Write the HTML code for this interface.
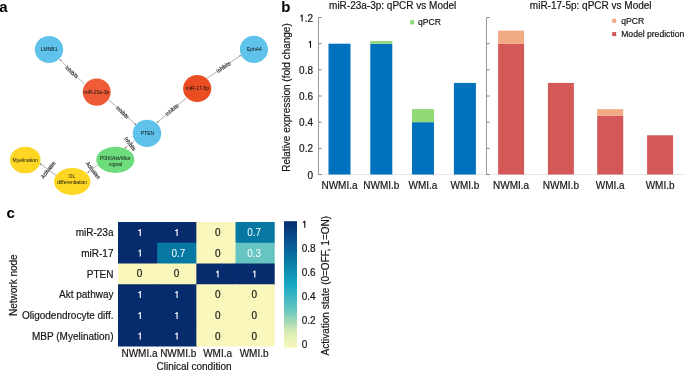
<!DOCTYPE html>
<html><head><meta charset="utf-8"><style>
html,body{margin:0;padding:0;background:#fff;width:685px;height:371px;overflow:hidden}
svg{display:block;font-family:"Liberation Sans", sans-serif;will-change:transform}
</style></head><body>
<svg width="685" height="371" viewBox="0 0 685 371">
<g>
<line x1="84.2" y1="83.8" x2="59.65" y2="59.3" stroke="#777" stroke-width="0.6"/>
<path d="M59.65,59.30 L61.42,59.93 L60.29,61.07Z" fill="#555"/>
<g transform="translate(71.8 71.9) rotate(43) scale(0.88 1)"><text x="0" y="1.9" font-size="5.6" fill="#fff" stroke="#fff" stroke-width="0.9" text-anchor="middle">Inhibits</text><text x="0" y="1.9" font-size="5.6" fill="#333" stroke="#333" stroke-width="0.2" text-anchor="middle">Inhibits</text></g>
<line x1="108.4" y1="99.4" x2="136.0" y2="124.9" stroke="#777" stroke-width="0.6"/>
<path d="M136.00,124.90 L134.21,124.33 L135.29,123.16Z" fill="#555"/>
<g transform="translate(122.4 112.3) rotate(43) scale(0.88 1)"><text x="0" y="1.9" font-size="5.6" fill="#fff" stroke="#fff" stroke-width="0.9" text-anchor="middle">Inhibits</text><text x="0" y="1.9" font-size="5.6" fill="#333" stroke="#333" stroke-width="0.2" text-anchor="middle">Inhibits</text></g>
<line x1="206.8" y1="78.5" x2="241" y2="55.2" stroke="#777" stroke-width="0.6"/>
<path d="M241.00,55.20 L240.05,56.82 L239.14,55.50Z" fill="#555"/>
<g transform="translate(223.4 67.2) rotate(-34.3) scale(0.88 1)"><text x="0" y="1.9" font-size="5.6" fill="#fff" stroke="#fff" stroke-width="0.9" text-anchor="middle">Inhibits</text><text x="0" y="1.9" font-size="5.6" fill="#333" stroke="#333" stroke-width="0.2" text-anchor="middle">Inhibits</text></g>
<line x1="186.5" y1="97.8" x2="157" y2="122.7" stroke="#777" stroke-width="0.6"/>
<path d="M157.00,122.70 L157.78,120.99 L158.82,122.21Z" fill="#555"/>
<g transform="translate(172.0 109.9) rotate(-40.2) scale(0.88 1)"><text x="0" y="1.9" font-size="5.6" fill="#fff" stroke="#fff" stroke-width="0.9" text-anchor="middle">Inhibits</text><text x="0" y="1.9" font-size="5.6" fill="#333" stroke="#333" stroke-width="0.2" text-anchor="middle">Inhibits</text></g>
<line x1="134.2" y1="141.1" x2="124.4" y2="148.5" stroke="#777" stroke-width="0.6"/>
<path d="M124.40,148.50 L125.27,146.84 L126.24,148.11Z" fill="#555"/>
<g transform="translate(130.1 143.9) rotate(53) scale(0.88 1)"><text x="0" y="1.9" font-size="5.6" fill="#fff" stroke="#fff" stroke-width="0.9" text-anchor="middle">Inhibits</text><text x="0" y="1.9" font-size="5.6" fill="#333" stroke="#333" stroke-width="0.2" text-anchor="middle">Inhibits</text></g>
<line x1="97.1" y1="165.4" x2="87.3" y2="172.8" stroke="#777" stroke-width="0.6"/>
<path d="M87.30,172.80 L88.17,171.14 L89.14,172.41Z" fill="#555"/>
<g transform="translate(93.1 170.4) rotate(52) scale(0.88 1)"><text x="0" y="1.9" font-size="5.6" fill="#fff" stroke="#fff" stroke-width="0.9" text-anchor="middle">Activates</text><text x="0" y="1.9" font-size="5.6" fill="#333" stroke="#333" stroke-width="0.2" text-anchor="middle">Activates</text></g>
<line x1="56.3" y1="175.5" x2="40" y2="163.6" stroke="#777" stroke-width="0.6"/>
<path d="M40.00,163.60 L41.84,163.96 L40.90,165.25Z" fill="#555"/>
<g transform="translate(48.1 169.9) rotate(-52) scale(0.88 1)"><text x="0" y="1.9" font-size="5.6" fill="#fff" stroke="#fff" stroke-width="0.9" text-anchor="middle">Activates</text><text x="0" y="1.9" font-size="5.6" fill="#333" stroke="#333" stroke-width="0.2" text-anchor="middle">Activates</text></g>
</g>
<ellipse cx="49" cy="49.5" rx="14.2" ry="13.6" fill="#5ec2ea"/>
<text x="49.1" y="50.9" font-size="5" fill="#111" text-anchor="middle">LMNB1</text>
<ellipse cx="96.7" cy="92.1" rx="14.0" ry="13.6" fill="#ee5b36"/>
<text x="96.3" y="93.8" font-size="5" fill="#111" text-anchor="middle">miR-23a-3p</text>
<ellipse cx="197.2" cy="88.5" rx="14.1" ry="13.6" fill="#ea4d22"/>
<text x="197.4" y="90.1" font-size="5" fill="#111" text-anchor="middle">miR-17-5p</text>
<ellipse cx="253.9" cy="49.4" rx="14.0" ry="13.6" fill="#5ec2ea"/>
<text x="254.4" y="50.5" font-size="5" fill="#111" text-anchor="middle">EphA4</text>
<ellipse cx="147" cy="133.4" rx="14.2" ry="13.6" fill="#5ec2ea"/>
<text x="147.5" y="134.7" font-size="5" fill="#111" text-anchor="middle">PTEN</text>
<ellipse cx="115.35" cy="159.8" rx="19.05" ry="13.1" fill="#6cdc7c"/>
<text x="115.3" y="159.5" font-size="5" fill="#111" text-anchor="middle">PI3K/Akt/Mtor</text>
<text x="115.6" y="165.6" font-size="5" fill="#111" text-anchor="middle">signal</text>
<ellipse cx="25.3" cy="160" rx="15.3" ry="13.3" fill="#fdd724"/>
<text x="25.2" y="161.6" font-size="5" fill="#111" text-anchor="middle">Myelination</text>
<ellipse cx="72.25" cy="181.5" rx="18.2" ry="13.4" fill="#fdd724"/>
<text x="71.9" y="178.3" font-size="5" fill="#111" text-anchor="middle">OL</text>
<text x="72.1" y="184.0" font-size="5" fill="#111" text-anchor="middle">differentiation</text>
<line x1="318.5" y1="174.5" x2="685" y2="174.5" stroke="#e6e6e6" stroke-width="1"/>
<line x1="318.5" y1="17.54" x2="318.5" y2="174.5" stroke="#808080" stroke-width="0.8"/>
<line x1="318.5" y1="174.50" x2="321.7" y2="174.50" stroke="#666" stroke-width="0.8"/>
<text x="313.00" y="178.50" font-size="10" fill="#141414" stroke="#141414" stroke-width="0.18" text-anchor="end">0</text>
<line x1="318.5" y1="148.34" x2="321.7" y2="148.34" stroke="#666" stroke-width="0.8"/>
<text x="313.00" y="152.34" font-size="10" fill="#141414" stroke="#141414" stroke-width="0.18" text-anchor="end">0.2</text>
<line x1="318.5" y1="122.18" x2="321.7" y2="122.18" stroke="#666" stroke-width="0.8"/>
<text x="313.00" y="126.18" font-size="10" fill="#141414" stroke="#141414" stroke-width="0.18" text-anchor="end">0.4</text>
<line x1="318.5" y1="96.02" x2="321.7" y2="96.02" stroke="#666" stroke-width="0.8"/>
<text x="313.00" y="100.02" font-size="10" fill="#141414" stroke="#141414" stroke-width="0.18" text-anchor="end">0.6</text>
<line x1="318.5" y1="69.86" x2="321.7" y2="69.86" stroke="#666" stroke-width="0.8"/>
<text x="313.00" y="73.86" font-size="10" fill="#141414" stroke="#141414" stroke-width="0.18" text-anchor="end">0.8</text>
<line x1="318.5" y1="43.70" x2="321.7" y2="43.70" stroke="#666" stroke-width="0.8"/>
<path d="M311.07,40.70 L311.07,47.70 L309.92,47.70 L309.92,42.70 L308.47,42.70 L308.47,41.90 C309.32,41.85 309.87,41.50 310.07,40.70 Z" fill="#141414"/>
<line x1="318.5" y1="17.54" x2="321.7" y2="17.54" stroke="#666" stroke-width="0.8"/>
<path d="M302.73,14.54 L302.73,21.54 L301.58,21.54 L301.58,16.54 L300.13,16.54 L300.13,15.74 C300.98,15.69 301.53,15.34 301.73,14.54 Z" fill="#141414"/>
<text x="313.00" y="21.54" font-size="10" fill="#141414" stroke="#141414" stroke-width="0.18" text-anchor="end">.2</text>
<rect x="328.50" y="43.70" width="22" height="130.80" fill="#0072bd"/>
<rect x="370.30" y="43.70" width="22" height="130.80" fill="#0072bd"/>
<rect x="370.30" y="41.08" width="22" height="2.62" fill="#90d975"/>
<rect x="412.00" y="122.18" width="22" height="52.32" fill="#0072bd"/>
<rect x="412.00" y="109.10" width="22" height="13.08" fill="#90d975"/>
<rect x="453.90" y="82.94" width="22" height="91.56" fill="#0072bd"/>
<line x1="486.5" y1="17.54" x2="486.5" y2="174.5" stroke="#808080" stroke-width="0.8"/>
<line x1="486.5" y1="174.50" x2="489.7" y2="174.50" stroke="#666" stroke-width="0.8"/>
<line x1="486.5" y1="148.34" x2="489.7" y2="148.34" stroke="#666" stroke-width="0.8"/>
<line x1="486.5" y1="122.18" x2="489.7" y2="122.18" stroke="#666" stroke-width="0.8"/>
<line x1="486.5" y1="96.02" x2="489.7" y2="96.02" stroke="#666" stroke-width="0.8"/>
<line x1="486.5" y1="69.86" x2="489.7" y2="69.86" stroke="#666" stroke-width="0.8"/>
<line x1="486.5" y1="43.70" x2="489.7" y2="43.70" stroke="#666" stroke-width="0.8"/>
<line x1="486.5" y1="17.54" x2="489.7" y2="17.54" stroke="#666" stroke-width="0.8"/>
<rect x="498.10" y="43.70" width="26" height="130.80" fill="#d55858"/>
<rect x="498.10" y="30.62" width="26" height="13.08" fill="#f2aa84"/>
<rect x="547.90" y="82.94" width="26" height="91.56" fill="#d55858"/>
<rect x="597.20" y="115.64" width="26" height="58.86" fill="#d55858"/>
<rect x="597.20" y="109.10" width="26" height="6.54" fill="#f2aa84"/>
<rect x="647.10" y="135.26" width="26" height="39.24" fill="#d55858"/>
<text x="339.50" y="188.50" font-size="10" fill="#141414" stroke="#141414" stroke-width="0.18" text-anchor="middle">NWMI.a</text>
<text x="381.30" y="188.50" font-size="10" fill="#141414" stroke="#141414" stroke-width="0.18" text-anchor="middle">NWMI.b</text>
<text x="423.00" y="188.50" font-size="10" fill="#141414" stroke="#141414" stroke-width="0.18" text-anchor="middle">WMI.a</text>
<text x="464.90" y="188.50" font-size="10" fill="#141414" stroke="#141414" stroke-width="0.18" text-anchor="middle">WMI.b</text>
<text x="511.10" y="188.50" font-size="10" fill="#141414" stroke="#141414" stroke-width="0.18" text-anchor="middle">NWMI.a</text>
<text x="560.90" y="188.50" font-size="10" fill="#141414" stroke="#141414" stroke-width="0.18" text-anchor="middle">NWMI.b</text>
<text x="610.20" y="188.50" font-size="10" fill="#141414" stroke="#141414" stroke-width="0.18" text-anchor="middle">WMI.a</text>
<text x="660.10" y="188.50" font-size="10" fill="#141414" stroke="#141414" stroke-width="0.18" text-anchor="middle">WMI.b</text>
<text x="392.70" y="8.60" font-size="10" fill="#141414" stroke="#141414" stroke-width="0.18" text-anchor="middle">miR-23a-3p: qPCR vs Model</text>
<text x="590.70" y="8.60" font-size="10" fill="#141414" stroke="#141414" stroke-width="0.18" text-anchor="middle">miR-17-5p: qPCR vs Model</text>
<text transform="translate(289.9 97.5) rotate(-90)" font-size="10" fill="#141414" stroke="#141414" stroke-width="0.18" text-anchor="middle">Relative expression (fold change)</text>
<rect x="410.2" y="20.2" width="4" height="4.2" fill="#90d975"/>
<text x="418.10" y="25.10" font-size="8.6" fill="#141414" stroke="#141414" stroke-width="0.18">qPCR</text>
<rect x="612.2" y="18.8" width="4" height="4.1" fill="#f2aa84"/>
<text x="621.20" y="23.80" font-size="8.6" fill="#141414" stroke="#141414" stroke-width="0.18">qPCR</text>
<rect x="612.2" y="32" width="4" height="4.1" fill="#d55858"/>
<text x="621.20" y="37.00" font-size="8.6" fill="#141414" stroke="#141414" stroke-width="0.18">Model prediction</text>
<rect x="118.00" y="222.00" width="40.17" height="21.75" fill="#072c6e"/>
<rect x="157.18" y="222.00" width="40.17" height="21.75" fill="#072c6e"/>
<rect x="196.35" y="222.00" width="40.17" height="21.75" fill="#f9f7bb"/>
<rect x="235.52" y="222.00" width="39.17" height="21.75" fill="#0777a3"/>
<path d="M140.85,228.88 L140.85,235.88 L139.70,235.88 L139.70,230.88 L138.25,230.88 L138.25,230.07 C139.10,230.03 139.65,229.68 139.85,228.88 Z" fill="#fff"/>
<path d="M177.65,228.88 L177.65,235.88 L176.50,235.88 L176.50,230.88 L175.05,230.88 L175.05,230.07 C175.90,230.03 176.45,229.68 176.65,228.88 Z" fill="#fff"/>
<text x="217.70" y="235.88" font-size="10" fill="#141414" stroke="#141414" stroke-width="0.18" text-anchor="middle">0</text>
<text x="254.20" y="235.88" font-size="10" fill="#fff" text-anchor="middle">0.7</text>
<text x="113.50" y="236.07" font-size="10" fill="#141414" stroke="#141414" stroke-width="0.18" text-anchor="end">miR-23a</text>
<rect x="118.00" y="242.75" width="40.17" height="21.75" fill="#072c6e"/>
<rect x="157.18" y="242.75" width="40.17" height="21.75" fill="#0777a3"/>
<rect x="196.35" y="242.75" width="40.17" height="21.75" fill="#f9f7bb"/>
<rect x="235.52" y="242.75" width="39.17" height="21.75" fill="#66c5c0"/>
<path d="M140.85,249.62 L140.85,256.62 L139.70,256.62 L139.70,251.62 L138.25,251.62 L138.25,250.82 C139.10,250.78 139.65,250.43 139.85,249.62 Z" fill="#fff"/>
<text x="178.40" y="256.62" font-size="10" fill="#fff" text-anchor="middle">0.7</text>
<text x="217.70" y="256.62" font-size="10" fill="#141414" stroke="#141414" stroke-width="0.18" text-anchor="middle">0</text>
<text x="254.20" y="256.62" font-size="10" fill="#fff" text-anchor="middle">0.3</text>
<text x="113.50" y="256.82" font-size="10" fill="#141414" stroke="#141414" stroke-width="0.18" text-anchor="end">miR-17</text>
<rect x="118.00" y="263.50" width="40.17" height="21.75" fill="#f9f7bb"/>
<rect x="157.18" y="263.50" width="40.17" height="21.75" fill="#f9f7bb"/>
<rect x="196.35" y="263.50" width="40.17" height="21.75" fill="#072c6e"/>
<rect x="235.52" y="263.50" width="39.17" height="21.75" fill="#072c6e"/>
<text x="139.50" y="277.38" font-size="10" fill="#141414" stroke="#141414" stroke-width="0.18" text-anchor="middle">0</text>
<text x="176.60" y="277.38" font-size="10" fill="#141414" stroke="#141414" stroke-width="0.18" text-anchor="middle">0</text>
<path d="M218.60,270.38 L218.60,277.38 L217.45,277.38 L217.45,272.38 L216.00,272.38 L216.00,271.57 C216.85,271.52 217.40,271.18 217.60,270.38 Z" fill="#fff"/>
<path d="M255.40,270.38 L255.40,277.38 L254.25,277.38 L254.25,272.38 L252.80,272.38 L252.80,271.57 C253.65,271.52 254.20,271.18 254.40,270.38 Z" fill="#fff"/>
<text x="113.50" y="277.57" font-size="10" fill="#141414" stroke="#141414" stroke-width="0.18" text-anchor="end">PTEN</text>
<rect x="118.00" y="284.25" width="40.17" height="21.75" fill="#072c6e"/>
<rect x="157.18" y="284.25" width="40.17" height="21.75" fill="#072c6e"/>
<rect x="196.35" y="284.25" width="40.17" height="21.75" fill="#f9f7bb"/>
<rect x="235.52" y="284.25" width="39.17" height="21.75" fill="#f9f7bb"/>
<path d="M140.85,291.12 L140.85,298.12 L139.70,298.12 L139.70,293.12 L138.25,293.12 L138.25,292.32 C139.10,292.27 139.65,291.93 139.85,291.12 Z" fill="#fff"/>
<path d="M177.65,291.12 L177.65,298.12 L176.50,298.12 L176.50,293.12 L175.05,293.12 L175.05,292.32 C175.90,292.27 176.45,291.93 176.65,291.12 Z" fill="#fff"/>
<text x="217.70" y="298.12" font-size="10" fill="#141414" stroke="#141414" stroke-width="0.18" text-anchor="middle">0</text>
<text x="254.30" y="298.12" font-size="10" fill="#141414" stroke="#141414" stroke-width="0.18" text-anchor="middle">0</text>
<text x="113.50" y="298.32" font-size="10" fill="#141414" stroke="#141414" stroke-width="0.18" text-anchor="end">Akt pathway</text>
<rect x="118.00" y="305.00" width="40.17" height="21.75" fill="#072c6e"/>
<rect x="157.18" y="305.00" width="40.17" height="21.75" fill="#072c6e"/>
<rect x="196.35" y="305.00" width="40.17" height="21.75" fill="#f9f7bb"/>
<rect x="235.52" y="305.00" width="39.17" height="21.75" fill="#f9f7bb"/>
<path d="M140.85,311.88 L140.85,318.88 L139.70,318.88 L139.70,313.88 L138.25,313.88 L138.25,313.07 C139.10,313.02 139.65,312.68 139.85,311.88 Z" fill="#fff"/>
<path d="M177.65,311.88 L177.65,318.88 L176.50,318.88 L176.50,313.88 L175.05,313.88 L175.05,313.07 C175.90,313.02 176.45,312.68 176.65,311.88 Z" fill="#fff"/>
<text x="217.70" y="318.88" font-size="10" fill="#141414" stroke="#141414" stroke-width="0.18" text-anchor="middle">0</text>
<text x="254.30" y="318.88" font-size="10" fill="#141414" stroke="#141414" stroke-width="0.18" text-anchor="middle">0</text>
<text x="113.50" y="319.07" font-size="10" fill="#141414" stroke="#141414" stroke-width="0.18" text-anchor="end">Oligodendrocyte diff.</text>
<rect x="118.00" y="325.75" width="40.17" height="20.75" fill="#072c6e"/>
<rect x="157.18" y="325.75" width="40.17" height="20.75" fill="#072c6e"/>
<rect x="196.35" y="325.75" width="40.17" height="20.75" fill="#f9f7bb"/>
<rect x="235.52" y="325.75" width="39.17" height="20.75" fill="#f9f7bb"/>
<path d="M140.85,332.62 L140.85,339.62 L139.70,339.62 L139.70,334.62 L138.25,334.62 L138.25,333.82 C139.10,333.77 139.65,333.43 139.85,332.62 Z" fill="#fff"/>
<path d="M177.65,332.62 L177.65,339.62 L176.50,339.62 L176.50,334.62 L175.05,334.62 L175.05,333.82 C175.90,333.77 176.45,333.43 176.65,332.62 Z" fill="#fff"/>
<text x="217.70" y="339.62" font-size="10" fill="#141414" stroke="#141414" stroke-width="0.18" text-anchor="middle">0</text>
<text x="254.30" y="339.62" font-size="10" fill="#141414" stroke="#141414" stroke-width="0.18" text-anchor="middle">0</text>
<text x="113.50" y="339.82" font-size="10" fill="#141414" stroke="#141414" stroke-width="0.18" text-anchor="end">MBP (Myelination)</text>
<text x="139.50" y="357.00" font-size="10" fill="#141414" stroke="#141414" stroke-width="0.18" text-anchor="middle">NWMI.a</text>
<text x="178.20" y="357.00" font-size="10" fill="#141414" stroke="#141414" stroke-width="0.18" text-anchor="middle">NWMI.b</text>
<text x="217.60" y="357.00" font-size="10" fill="#141414" stroke="#141414" stroke-width="0.18" text-anchor="middle">WMI.a</text>
<text x="254.10" y="357.00" font-size="10" fill="#141414" stroke="#141414" stroke-width="0.18" text-anchor="middle">WMI.b</text>
<text x="194.00" y="369.50" font-size="10" fill="#141414" stroke="#141414" stroke-width="0.18" text-anchor="middle">Clinical condition</text>
<text transform="translate(16.5 285.2) rotate(-90)" font-size="10" fill="#141414" stroke="#141414" stroke-width="0.18" text-anchor="middle">Network node</text>
<defs><linearGradient id="cb" x1="0" y1="1" x2="0" y2="0"><stop offset="0" stop-color="#f9f7bb"/><stop offset="0.12" stop-color="#d9edb5"/><stop offset="0.2" stop-color="#a8dab6"/><stop offset="0.3" stop-color="#66c5c0"/><stop offset="0.5" stop-color="#16a6c4"/><stop offset="0.7" stop-color="#0777a3"/><stop offset="0.85" stop-color="#0a5290"/><stop offset="1" stop-color="#072c6e"/></linearGradient></defs>
<rect x="284" y="221.2" width="13" height="126.5" fill="url(#cb)"/>
<text x="301.70" y="347.70" font-size="10" fill="#141414" stroke="#141414" stroke-width="0.18">0</text>
<text x="301.70" y="323.70" font-size="10" fill="#141414" stroke="#141414" stroke-width="0.18">0.2</text>
<text x="301.70" y="299.70" font-size="10" fill="#141414" stroke="#141414" stroke-width="0.18">0.4</text>
<text x="301.70" y="275.70" font-size="10" fill="#141414" stroke="#141414" stroke-width="0.18">0.6</text>
<text x="301.70" y="251.70" font-size="10" fill="#141414" stroke="#141414" stroke-width="0.18">0.8</text>
<path d="M305.33,220.70 L305.33,227.70 L304.18,227.70 L304.18,222.70 L302.73,222.70 L302.73,221.90 C303.58,221.85 304.13,221.50 304.33,220.70 Z" fill="#141414"/>
<text transform="translate(329 285.7) rotate(-90)" font-size="10" fill="#141414" stroke="#141414" stroke-width="0.18" text-anchor="middle">Activation state (0=OFF, 1=ON)</text>
<text x="-0.8" y="12" font-size="15" font-weight="bold" fill="#000">a</text>
<text x="281.2" y="11.5" font-size="15" font-weight="bold" fill="#000">b</text>
<text x="6.5" y="217.85" font-size="15" font-weight="bold" fill="#000">c</text>
</svg></body></html>
